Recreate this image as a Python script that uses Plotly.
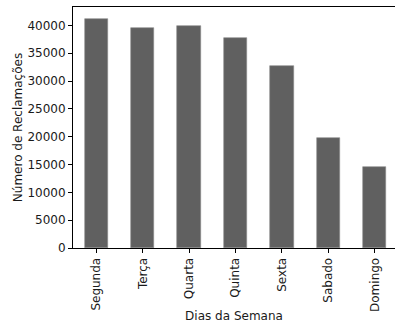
import plotly.graph_objects as go

dias = ["Segunda", "Terça", "Quarta", "Quinta", "Sexta", "Sabado", "Domingo"]
reclamacoes = [41150, 39600, 39950, 37800, 32650, 19850, 14620]
y_ticks = [0, 5000, 10000, 15000, 20000, 25000, 30000, 35000, 40000]

font = dict(family="DejaVu Sans", size=12, color="#1a1a1a")

fig = go.Figure(go.Bar(
    x=list(range(len(dias))), y=reclamacoes, width=0.5,
    marker=dict(color="#606060", line=dict(color="#8a8a8a", width=0.6)),
))

fig.update_layout(
    width=395, height=323,
    margin=dict(l=73, r=0, t=7, b=75),
    paper_bgcolor="white", plot_bgcolor="white",
    font=font, showlegend=False, bargap=0,
)
fig.update_xaxes(
    range=[-0.5, 6.435], tickmode="array", tickvals=list(range(len(dias))), ticktext=dias,
    tickangle=-90, ticks="outside", ticklen=4, tickwidth=1, tickcolor="black",
    showline=True, linecolor="black", linewidth=1, mirror=True, showgrid=False, zeroline=False,
    title=dict(text="Dias da Semana", standoff=6, font=font), automargin=False,
)
fig.update_yaxes(
    range=[0, 43300], tickmode="array", tickvals=y_ticks, tickformat="d",
    ticks="outside", ticklen=4, tickwidth=1, tickcolor="black",
    showline=True, linecolor="black", linewidth=1, showgrid=False, zeroline=False,
    title=dict(text="Número de Reclamações", standoff=2, font=font), automargin=False,
)
fig.write_html("out.html")
